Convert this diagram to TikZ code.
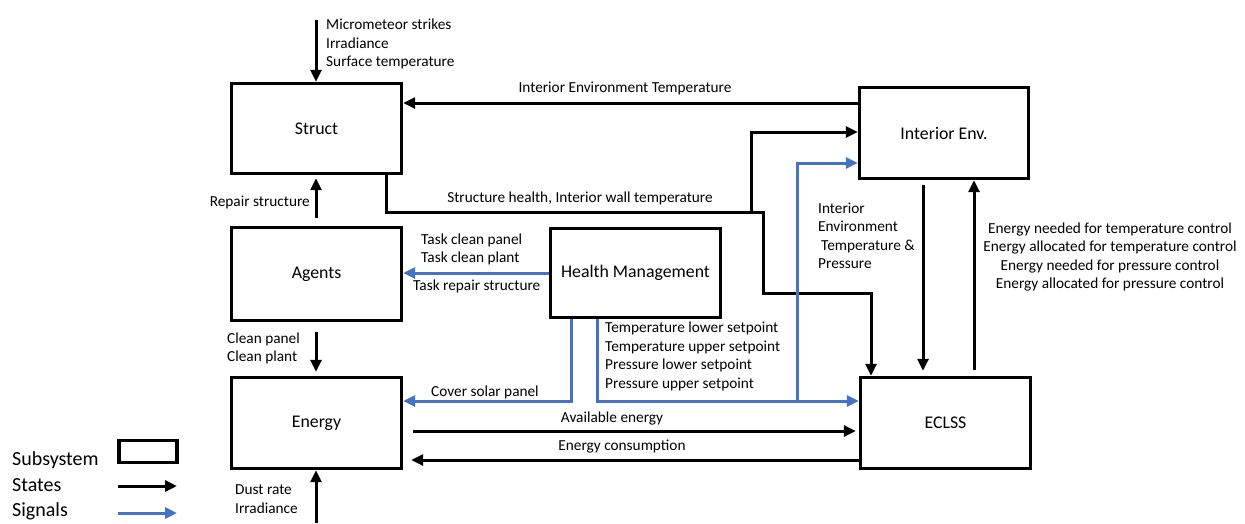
\documentclass[tikz,border=0pt]{standalone}
\usepackage{fontspec}
\setmainfont{Carlito}
\usetikzlibrary{arrows.meta}
\definecolor{sigblue}{RGB}{68,114,196}
\begin{document}
\begin{tikzpicture}[x=1pt,y=-1pt,
  sub/.style={draw, line width=3.4pt, minimum width=170pt, inner sep=0pt,
              font=\fontsize{17.8}{21}\selectfont},
  st/.style={line width=3pt, -{Triangle[length=12pt,width=11pt]}},
  sg/.style={st, draw=sigblue, -{Triangle[length=12pt,width=11pt,fill=sigblue]}},
  lbl/.style={font=\fontsize{15.3}{18.5}\selectfont, inner sep=0pt},
  leg/.style={font=\fontsize{20}{23}\selectfont, inner sep=0pt, anchor=west},
]
\useasboundingbox (0,0) rectangle (1245,523);

% subsystems
\node[sub, minimum height=90pt] (Struct) at (316.5,128.5) {Struct};
\node[sub, minimum height=93pt] (Agents) at (316.5,274) {Agents};
\node[sub, minimum height=91pt] (Energy) at (316.5,423) {Energy};
\node[sub, minimum height=89pt] (HM) at (635.5,273) {Health Management};
\node[sub, minimum width=169pt, minimum height=91pt] (IE) at (944,133) {Interior Env.};
\node[sub, minimum height=91pt] (ECLSS) at (945.5,423) {ECLSS};

% external inputs
\coordinate (tin) at (316,20);
\coordinate (ein) at (316,523);
\draw[st] (tin) -- (tin |- Struct.north);
\node[lbl, anchor=west, align=left] (tinl) at (326,44) {Micrometeor strikes\\Irradiance\\Surface temperature};
\draw[st] (ein) -- (ein |- Energy.south);
\node[lbl, anchor=west, align=left] (einl) at (235,499) {Dust rate\\Irradiance};

% states between subsystems
\draw[st] (IE.west |- 0,103) -- (Struct.east |- 0,103);
\node[lbl] (l1) at (625,88) {Interior Environment Temperature};

\draw[st] (Struct.south -| 386,0) -- (386,212) -- (763,212) -- (763,293) -- (871,293) -- (ECLSS.north -| 871,0);
\draw[st] (751,212) -- (751,132) -- (IE.west |- 0,132);
\node[lbl] (l2) at (580,198) {Structure health, Interior wall temperature};

\draw[st, shorten <=5pt, shorten >=5pt] (IE.south -| 923,0) -- (ECLSS.north -| 923,0);
\draw[st, shorten <=6pt] (ECLSS.north -| 974,0) -- (IE.south -| 974,0);
\node[lbl, align=center] (l3) at (1110,257) {Energy needed for temperature control\\Energy allocated for temperature control\\Energy needed for pressure control\\Energy allocated for pressure control};

\draw[st, shorten <=8pt, shorten >=3pt] (Agents.north -| 316,0) -- (Struct.south -| 316,0);
\node[lbl, anchor=east] (l4) at (310,202) {Repair structure};
\draw[st, shorten <=10pt, shorten >=4pt] (Agents.south -| 316,0) -- (Energy.north -| 316,0);
\node[lbl, anchor=west, align=left] (l5) at (227,348.5) {Clean panel\\Clean plant};

\draw[st, shorten <=10pt, shorten >=3pt] (Energy.east |- 0,431) -- (ECLSS.west |- 0,431);
\node[lbl] (l6) at (612,418) {Available energy};
\draw[st, shorten >=8pt] (ECLSS.west |- 0,460) -- (Energy.east |- 0,460);
\node[lbl] (l7) at (622,447) {Energy consumption};

% signals from health management
\draw[sg] (HM.west |- 0,273) -- (Agents.east |- 0,273);
\node[lbl, anchor=west] (t1) at (421,240) {Task clean panel};
\node[lbl, anchor=west] (t2) at (421,258) {Task clean plant};
\node[lbl, anchor=west] (t3) at (413,286) {Task repair structure};

\draw[sg] (HM.south -| 571,0) -- (571,401) -- (Energy.east |- 0,401);
\node[lbl] (t4) at (485,392) {Cover solar panel};

\draw[sg] (HM.south -| 597,0) -- (597,401) -- (ECLSS.west |- 0,401);
\draw[sg] (797,401) -- (797,163) -- (IE.west |- 0,163);
\node[lbl, anchor=west, align=left] (t5) at (605,356.5) {Temperature lower setpoint\\Temperature upper setpoint\\Pressure lower setpoint\\Pressure upper setpoint};
\node[lbl, anchor=west, align=left] (t6) at (818,236) {Interior\\Environment\\\hspace{3pt}Temperature \&\\Pressure};

% legend
\node[leg] (g1) at (12,460) {Subsystem};
\node[draw, line width=3.4pt, minimum width=58pt, minimum height=22pt, inner sep=0pt] (gbox) at (148,451.5) {};
\node[leg] (g2) at (12,485) {States};
\coordinate (ga1) at (118,486);
\coordinate (ga2) at (177,486);
\draw[st] (ga1) -- (ga2);
\node[leg] (g3) at (12,511) {Signals};
\coordinate (gb1) at (118,513);
\coordinate (gb2) at (177,513);
\draw[sg] (gb1) -- (gb2);
\end{tikzpicture}
\end{document}
